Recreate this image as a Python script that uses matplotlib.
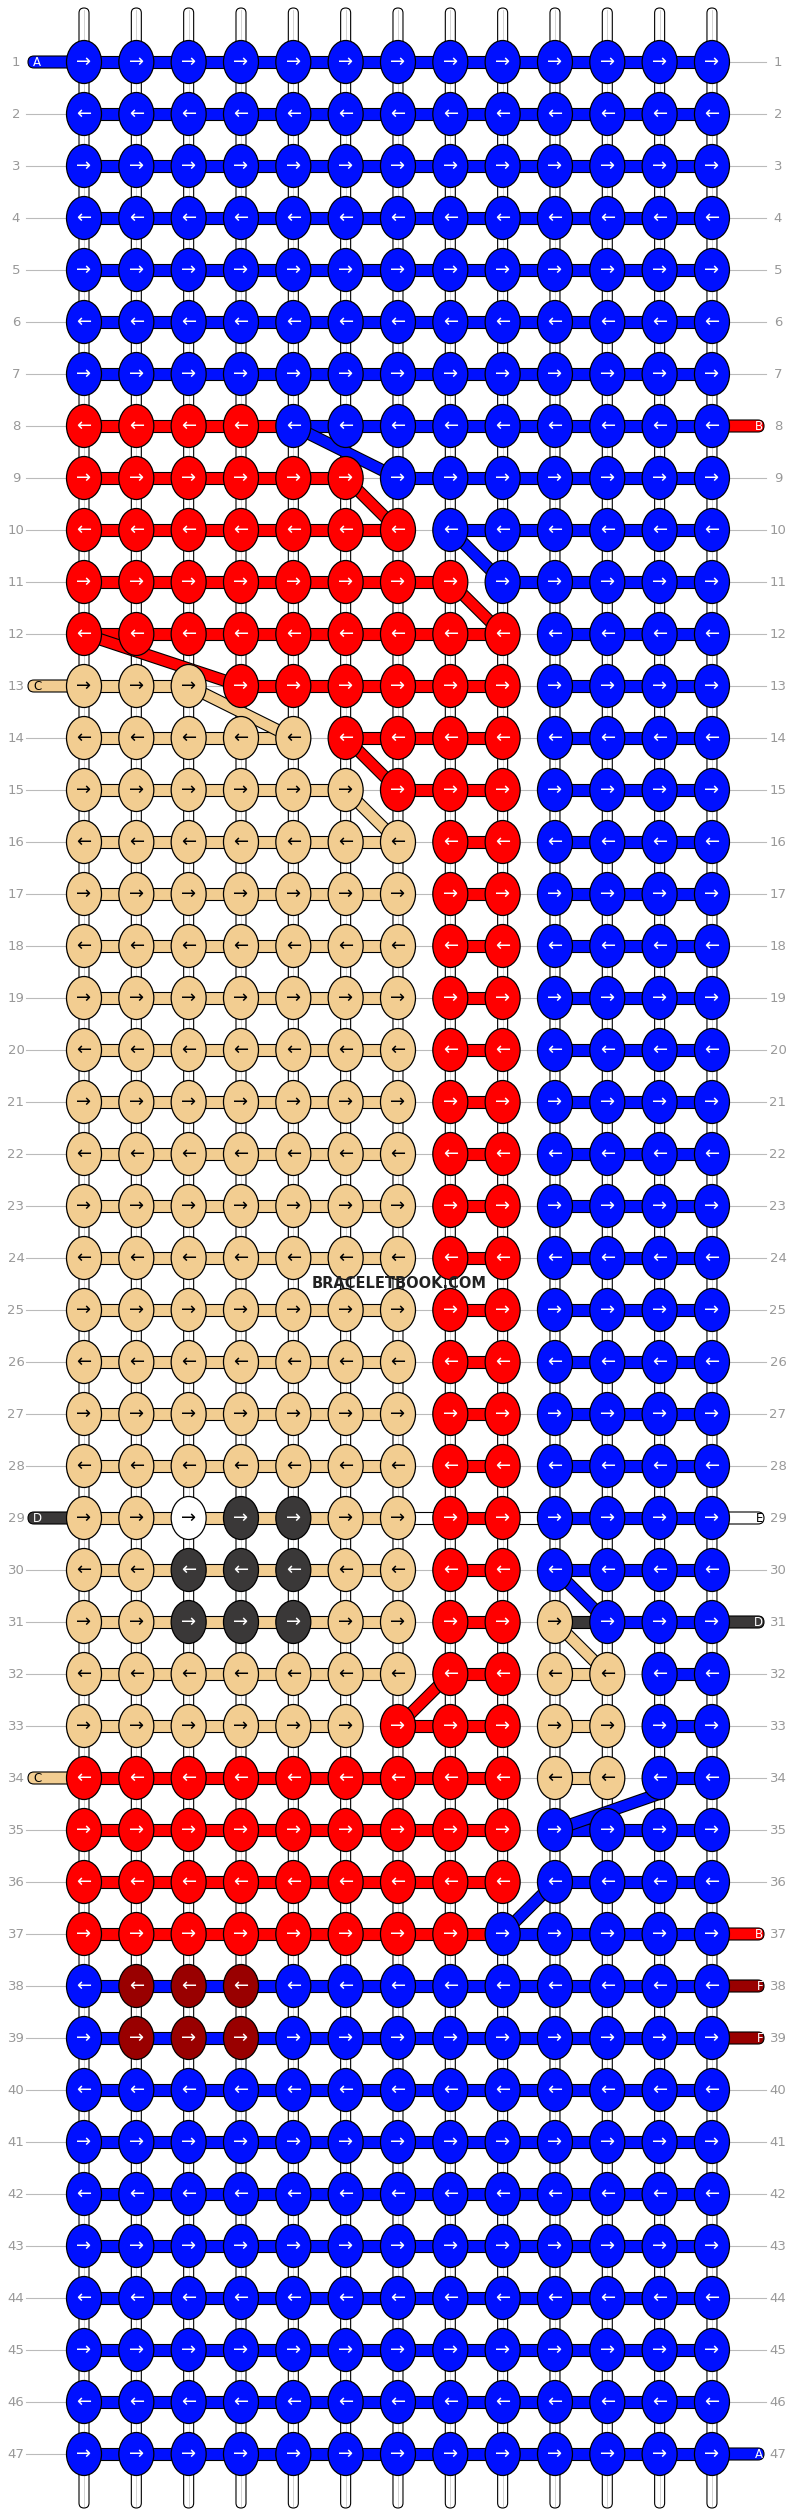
import matplotlib
matplotlib.use("Agg")
import matplotlib.pyplot as plt
from matplotlib.patches import Ellipse, Rectangle, FancyBboxPatch

# Color codes per knot: b=blue r=red t=tan k=dark w=white m=dark red
rows = [
    "bbbbbbbbbbbbb",  # 1
    "bbbbbbbbbbbbb",
    "bbbbbbbbbbbbb",
    "bbbbbbbbbbbbb",
    "bbbbbbbbbbbbb",
    "bbbbbbbbbbbbb",
    "bbbbbbbbbbbbb",
    "rrrrbbbbbbbbb",  # 8
    "rrrrrrbbbbbbb",
    "rrrrrrrbbbbbb",
    "rrrrrrrrbbbbb",
    "rrrrrrrrrbbbb",
    "tttrrrrrrbbbb",  # 13
    "tttttrrrrbbbb",
    "ttttttrrrbbbb",
] + ["tttttttrrbbbb"] * 13 + [  # 16-28
    "ttwkkttrrbbbb",  # 29
    "ttkkkttrrbbbb",
    "ttkkkttrrtbbb",
    "tttttttrrttbb",
    "ttttttrrrttbb",
    "rrrrrrrrrttbb",  # 34
    "rrrrrrrrrbbbb",
    "rrrrrrrrrbbbb",
    "rrrrrrrrbbbbb",
    "bmmmbbbbbbbbb",  # 38
    "bmmmbbbbbbbbb",
] + ["bbbbbbbbbbbbb"] * 8  # 40-47

colors = {"b": "#0010FF", "r": "#FF0000", "t": "#F2CD91", "k": "#3A3838",
          "w": "#FFFFFF", "m": "#990000"}

left_tails = {1: ("A", "b"), 13: ("C", "t"), 29: ("D", "k"), 34: ("C", "t")}
right_tails = {8: ("B", "r"), 29: ("E", "w"), 31: ("D", "k"), 37: ("B", "r"),
               38: ("F", "m"), 39: ("F", "m"), 47: ("A", "b")}
special_links = {(29, 7): "w", (29, 9): "w", (31, 10): "k", (8, 4): "r", (37, 8): "r"}
diagonals = [((8, 5), (9, 7), "b"), ((9, 6), (10, 7), "r"), ((10, 8), (11, 9), "b"),
             ((11, 8), (12, 9), "r"), ((12, 1), (13, 4), "r"), ((13, 3), (14, 5), "t"),
             ((14, 6), (15, 7), "r"), ((15, 6), (16, 7), "t"), ((30, 10), (31, 11), "b"),
             ((31, 10), (32, 11), "t"), ((33, 7), (32, 8), "r"), ((34.3, 12), (35, 10), "b"),
             ((36, 10), (37, 9), "b")]

W, H = 792, 2516
fig = plt.figure(figsize=(W / 100, H / 100), dpi=100)
ax = fig.add_axes([0, 0, 1, 1])
ax.set_xlim(0, W)
ax.set_ylim(H, 0)
ax.axis("off")

X0, DX, Y0, DY = 84, 52.33, 62, 52.0
def X(c): return X0 + (c - 1) * DX
def Y(r): return Y0 + (r - 1) * DY
nr, nc = len(rows), 13

for c in range(1, nc + 1):
    ax.add_patch(FancyBboxPatch((X(c) - 5, 8), 10, H - 16, boxstyle="round,pad=0,rounding_size=5",
                                fc="white", ec="black", lw=0.8, zorder=1))
    ax.plot([X(c), X(c)], [10, H - 10], color="#cccccc", lw=0.6, zorder=1.1)

def hbar(x1, x2, y, col, z=2):
    ax.add_patch(Rectangle((x1, y - 6), x2 - x1, 12, fc=colors[col], ec="black", lw=0.8, zorder=z))

for r in range(1, nr + 1):
    y = Y(r)
    row = rows[r - 1]
    ax.text(16, y, str(r), ha="center", va="center", fontsize=9.5, color="#999999", zorder=5)
    ax.text(W - 14, y, str(r), ha="center", va="center", fontsize=9.5, color="#999999", zorder=5)
    if r in left_tails:
        lab, col = left_tails[r]
        ax.add_patch(FancyBboxPatch((28, y - 6), X(1) - 28, 12, boxstyle="round,pad=0,rounding_size=6",
                                    fc=colors[col], ec="black", lw=0.8, zorder=2))
        ax.text(33, y, lab, ha="left", va="center", fontsize=8.5,
                color="black" if col in "tw" else "white", zorder=3)
    else:
        ax.plot([26, X(1)], [y, y], color="#bbbbbb", lw=0.8, zorder=1.5)
    if r in right_tails:
        lab, col = right_tails[r]
        ax.add_patch(FancyBboxPatch((X(nc), y - 6), W - 28 - X(nc), 12, boxstyle="round,pad=0,rounding_size=6",
                                    fc=colors[col], ec="black", lw=0.8, zorder=2))
        ax.text(W - 29, y, lab, ha="right", va="center", fontsize=8.5,
                color="black" if col in "tw" else "white", zorder=3)
    else:
        ax.plot([X(nc), W - 26], [y, y], color="#bbbbbb", lw=0.8, zorder=1.5)
    for c in range(1, nc):
        a, b = row[c - 1], row[c]
        if (r, c) in special_links:
            hbar(X(c), X(c + 1), y, special_links[(r, c)])
        elif a == b and a not in "km":
            hbar(X(c), X(c + 1), y, a)
        elif "m" in (a, b):
            hbar(X(c), X(c + 1), y, "b")
        elif set((a, b)) <= set("tkw"):
            hbar(X(c), X(c + 1), y, "t")
        else:
            ax.plot([X(c), X(c + 1)], [y, y], color="#bbbbbb", lw=0.8, zorder=1.5)

for (r1, c1), (r2, c2), col in diagonals:
    ax.plot([X(c1), X(c2)], [Y(r1), Y(r2)], color="black", lw=9, solid_capstyle="butt", zorder=2.5)
    ax.plot([X(c1), X(c2)], [Y(r1), Y(r2)], color=colors[col], lw=7.4, solid_capstyle="butt", zorder=2.6)

for r in range(1, nr + 1):
    y = Y(r)
    arrow = "→" if r % 2 == 1 else "←"
    for c in range(1, nc + 1):
        col = rows[r - 1][c - 1]
        ax.add_patch(Ellipse((X(c), y), 35, 43, fc=colors[col], ec="black", lw=0.9, zorder=3))
        ax.text(X(c), y, arrow, ha="center", va="center", fontsize=13,
                color="black" if col in "tw" else "white", zorder=4)

ax.text(399, 1284, "BRACELETBOOK.COM", ha="center", va="center", fontsize=10.5,
        fontweight="bold", color="#222222", zorder=6)

fig.savefig("out.png", dpi=100)
